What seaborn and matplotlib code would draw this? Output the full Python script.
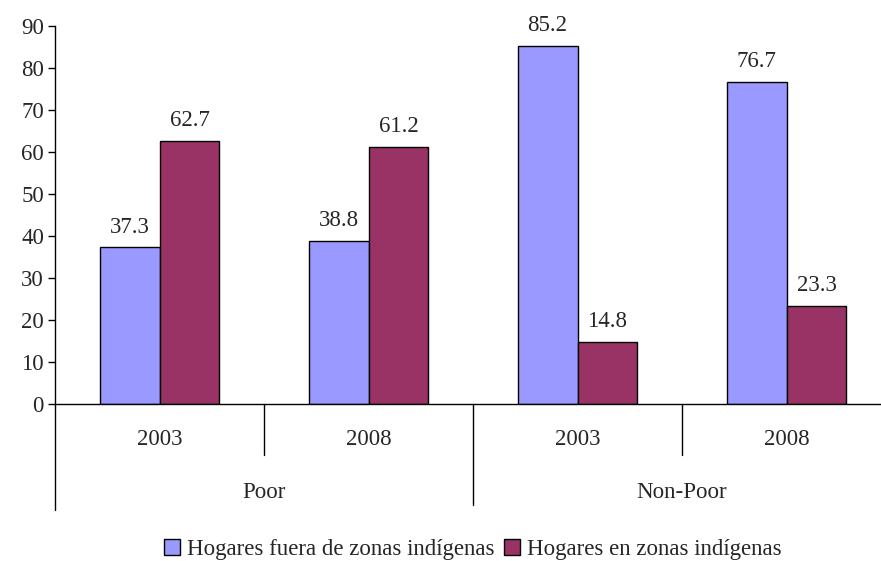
import pandas as pd
import matplotlib.pyplot as plt
import seaborn as sns

# data
groups = ["Poor", "Poor", "Non-Poor", "Non-Poor"]
years = ["2003", "2008", "2003", "2008"]
fuera = [37.3, 38.8, 85.2, 76.7]
en_zonas = [62.7, 61.2, 14.8, 23.3]
series = ["Hogares fuera de zonas indígenas", "Hogares en zonas indígenas"]
colors = ["#9999FF", "#993366"]

cats = [f"{g} {y}" for g, y in zip(groups, years)]
df = pd.DataFrame({
    "cat": cats * 2,
    "serie": [series[0]] * 4 + [series[1]] * 4,
    "valor": fuera + en_zonas,
})

FS = 16.5

sns.set_style("white")
plt.rcParams["font.family"] = ["Liberation Serif", "DejaVu Serif"]
plt.rcParams["font.size"] = FS

f = plt.figure(figsize=(8.81, 5.61), dpi=100)
ax = f.add_axes([55 / 881, 1 - 404 / 561, 836 / 881, 378 / 561])

sns.barplot(data=df, x="cat", y="valor", hue="serie", palette=colors, width=0.574,
            edgecolor="black", linewidth=1, saturation=1, ax=ax)

for c in ax.containers:
    ax.bar_label(c, fmt="%.1f", padding=7, fontsize=FS)

ax.set_ylim(0, 90)
ax.set_yticks(range(0, 91, 10))
ax.set_xlim(-0.5, 3.5)
ax.set_xlabel("")
ax.set_ylabel("")
ax.set_xticks([])
sns.despine(ax=ax, top=True, right=True)
ax.spines["left"].set_color("black")
ax.spines["bottom"].set_color("black")
ax.spines["left"].set_linewidth(1)
ax.spines["bottom"].set_linewidth(1)
ax.tick_params(axis="y", left=True, length=5, width=1, color="black", direction="out",
               pad=3, labelsize=FS)

# two level category axis
trans = ax.get_xaxis_transform()
ax.plot([-0.5, -0.5], [0, -0.28], color="black", lw=1, transform=trans, clip_on=False)
for xs in [0.5, 2.5]:
    ax.plot([xs, xs], [0, -0.135], color="black", lw=1, transform=trans, clip_on=False)
ax.plot([1.5, 1.5], [0, -0.267], color="black", lw=1, transform=trans, clip_on=False)
for i, y in enumerate(years):
    ax.text(i, -0.095, y, transform=trans, ha="center", va="center", fontsize=FS)
ax.text(0.5, -0.233, "Poor", transform=trans, ha="center", va="center", fontsize=FS)
ax.text(2.5, -0.233, "Non-Poor", transform=trans, ha="center", va="center", fontsize=FS)

ax.legend(loc="center", bbox_to_anchor=(0.5, -0.386), ncol=2, frameon=False,
          handlelength=0.7, handleheight=0.7, handletextpad=0.3, columnspacing=0.4,
          fontsize=FS)

f.savefig("out.png", dpi=100)
plt.close("all")
